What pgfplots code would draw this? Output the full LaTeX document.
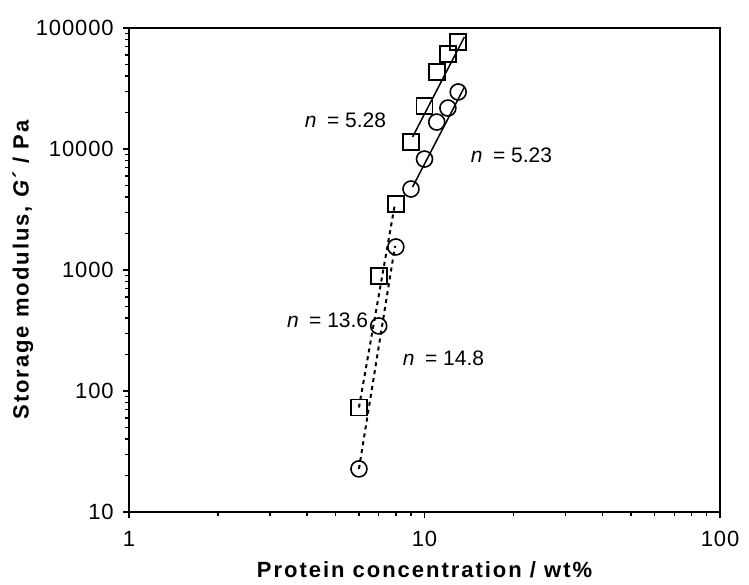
\documentclass[border=0pt]{standalone}
\usepackage{fontspec}
\setmainfont{Liberation Sans}
\newfontfamily\labelfont{Liberation Sans}[LetterSpace=9]
\newfontfamily\tickfont{Liberation Sans}[LetterSpace=4]
\usepackage{pgfplots}
\pgfplotsset{compat=1.18}
\begin{document}
\fontsize{10.5pt}{12pt}\selectfont
\begin{tikzpicture}
\begin{axis}[
  scale only axis,
  width=295.5pt, height=242pt,
  xmode=log, ymode=log,
  xmin=1, xmax=100, ymin=10, ymax=100000,
  xtick={1,10,100}, xticklabels={1,10,100},
  ytick={10,100,1000,10000,100000}, yticklabels={10,100,1000,10000,100000},
  tick align=outside,
  major tick length=3pt, minor tick length=2pt,
  xtick pos=bottom, ytick pos=left,
  axis line style={line width=1pt},
  every tick/.style={line width=0.7pt, black},
  /pgf/number format/assume math mode=true,
  tick label style={font=\tickfont\fontsize{11pt}{12pt}\selectfont},
  xticklabel style={yshift=-3pt},
  yticklabel style={xshift=-1pt},
  clip=false,
]
% fitted lines
\addplot[black, line width=1pt, dash pattern=on 2pt off 2pt] coordinates {(6,73) (7.95,3550)};
\addplot[black, line width=1pt, dash pattern=on 2pt off 2pt] coordinates {(6,22.7) (7.95,1580)};
\addplot[black, line width=0.75pt] coordinates {(9.11,12560) (13.65,84300)};
\addplot[black, line width=0.75pt] coordinates {(9.11,4850) (13.65,32500)};
% squares
\addplot[only marks, mark=square, mark size=4pt, mark options={line width=0.8pt, black, fill=none}] coordinates {
(6,73) (7,892) (8,3510) (9,11400) (10,22600) (11,43300) (12,61000) (13,76600)};
% circles
\addplot[only marks, mark=o, mark size=4pt, mark options={line width=0.8pt, black, fill=none}] coordinates {
(6,22.7) (7,345) (8,1550) (9,4670) (10,8260) (11,16700) (12,21800) (13,29600)};
\node at (axis cs:5.4,17400) {\textit{n}\enspace= 5.28};
\node at (axis cs:19.7,8900) {\textit{n}\enspace= 5.23};
\node at (axis cs:4.7,386) {\textit{n}\enspace= 13.6};
\node at (axis cs:11.6,187) {\textit{n}\enspace= 14.8};
\node[font=\labelfont\bfseries\fontsize{11pt}{13pt}\selectfont] at ([yshift=-29pt]axis description cs:0.5,0) {Protein concentration / wt\%};
\node[font=\labelfont\bfseries\fontsize{11pt}{13pt}\selectfont, rotate=90] at ([xshift=-53pt]axis description cs:0,0.5) {Storage modulus, \textit{G}´ / Pa};
\end{axis}
\pgfresetboundingbox
\path (current axis.south west) ++(-64.5pt,-36.5pt) coordinate (bl);
\path (current axis.north east) ++(14.5pt,14pt) coordinate (tr);
\path (bl) rectangle (tr);
\end{tikzpicture}
\end{document}
